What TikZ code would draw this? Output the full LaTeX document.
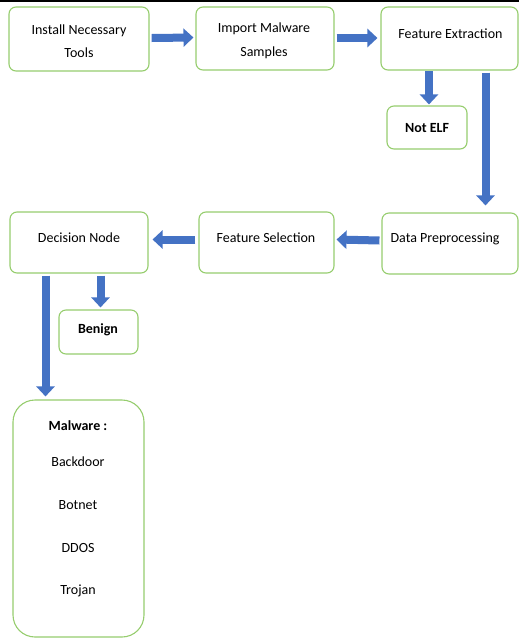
\documentclass[tikz,border=0pt]{standalone}
\usepackage{fontspec}
\setmainfont{Carlito}
\usetikzlibrary{arrows.meta,calc}
\definecolor{boxgreen}{RGB}{150,205,110}
\definecolor{arrblue}{RGB}{68,114,196}
\begin{document}
\begin{tikzpicture}[x=1pt,y=-1pt,
  box/.style={draw=boxgreen, line width=1.1pt, rounded corners=7pt, fill=white, inner sep=0pt},
  lbl/.style={font=\fontsize{14}{23.5}\selectfont, inner sep=0pt, align=center},
  blbl/.style={lbl, font=\fontsize{14}{23.5}\selectfont\bfseries},
  barrow/.style={draw=arrblue, line width=8pt, -{Triangle[width=18pt,length=10pt]}}]
\useasboundingbox (0,0) rectangle (519,638);
\fill[black] (0,0) rectangle (519,1.5);
% boxes
\node[box, minimum width=140pt, minimum height=64pt] (inst) at (79,39) {};
\node[box, minimum width=138pt, minimum height=63pt] (imp) at (265,38.5) {};
\node[box, minimum width=137pt, minimum height=63pt] (fe) at (449.5,38.5) {};
\node[box, minimum width=80pt, minimum height=43pt] (notelf) at (427,127.5) {};
\node[box, minimum width=138pt, minimum height=61pt] (dn) at (79,242.5) {};
\node[box, minimum width=135pt, minimum height=61pt] (fs) at (266.5,242.5) {};
\node[box, minimum width=136pt, minimum height=61pt] (dp) at (450,243.5) {};
\node[box, minimum width=79pt, minimum height=44pt] (benign) at (98.5,332) {};
\node[box, rounded corners=22pt, minimum width=131pt, minimum height=237pt] (mal) at (78.5,518.5) {};
% texts
\node[lbl] (instT) at (79,41) {Install Necessary\\Tools};
\node[lbl] (impT) at (264,41) {Import Malware\\Samples};
\node[lbl, anchor=base] (feT) at (450.5,38.5) {Feature Extraction};
\node[blbl, anchor=base] (notelfT) at (427,132) {Not ELF};
\node[lbl, anchor=base] (dnT) at (79,242) {Decision Node};
\node[lbl, anchor=base] (fsT) at (266,242) {Feature Selection};
\node[lbl, anchor=base] (dpT) at (445,242) {Data Preprocessing};
\node[blbl, anchor=base] (benignT) at (98,333.5) {Benign};
\node[blbl, anchor=base] (m0) at (78,430) {Malware :};
\node[lbl, anchor=base] (m1) at (78,466) {Backdoor};
\node[lbl, anchor=base] (m2) at (78,509) {Botnet};
\node[lbl, anchor=base] (m3) at (78,552) {DDOS};
\node[lbl, anchor=base] (m4) at (78,594) {Trojan};
% arrows
\draw[barrow] ($(inst.east)+(2,-1)$) -- ($(imp.west)+(-2,-1)$);
\draw[barrow] ($(imp.east)+(2,-0.5)$) -- ($(fe.west)+(-3,-0.5)$);
\draw[barrow] ($(fe.south)+(-20.5,0.5)$) -- ($(notelf.north)+(2,-1)$);
\draw[barrow] ($(fe.south)+(36,2)$) -- ($(dp.north)+(35.5,-7)$);
\draw[barrow] ($(dp.west)+(-2,-3)$) -- ($(fs.east)+(2,-3)$);
\draw[barrow] ($(fs.west)+(-3,-3)$) -- ($(dn.east)+(4,-3)$);
\draw[barrow] ($(dn.south)+(21.5,2)$) -- ($(benign.north)+(2,-2)$);
\draw[barrow] ($(dn.south)+(-33.5,2)$) -- ($(mal.north)+(-33,-3)$);
\end{tikzpicture}
\end{document}
